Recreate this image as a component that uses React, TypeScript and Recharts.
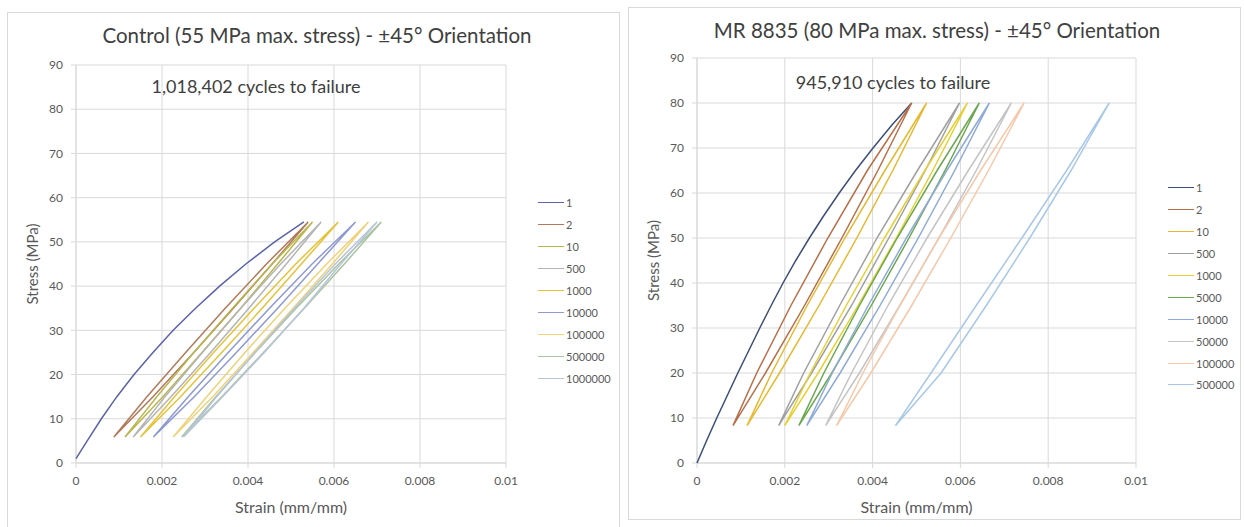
import { CartesianGrid, Legend, Scatter, ScatterChart, XAxis, YAxis } from "recharts";

type Pt = { x: number; y: number };

// Shared axis ticks (strain in mm/mm, stress in MPa)
const STRAIN_TICKS = [0, 0.002, 0.004, 0.006, 0.008, 0.01];
const STRESS_TICKS = [0, 10, 20, 30, 40, 50, 60, 70, 80, 90];

// ---- Control, 55 MPa max stress ----
const CONTROL_CYCLES = ["1", "2", "10", "500", "1000", "10000", "100000", "500000", "1000000"];
const CONTROL_COLORS = [
  "#5b62a8", "#b07a5a", "#b9b64e", "#b4b4b4", "#e6c23a",
  "#8e9ad0", "#f0d27a", "#a9c4a0", "#b8c4d8",
];
// first cycle: loading from rest
const CONTROL_FIRST_STRESS = [1, 5, 10, 15, 20, 25, 30, 35, 40, 45, 50, 54.5];
const CONTROL_FIRST_STRAIN = [
  0, 0.00026, 0.00059, 0.00095, 0.00135, 0.00179, 0.00226, 0.00278, 0.00334, 0.00395, 0.00462, 0.0053,
];
// later cycles: load up then unload (same stress path for every loop)
const CONTROL_LOOP_STRESS = [5.9, 15, 25, 35, 45, 54.5, 45, 35, 25, 15, 5.9];
const CONTROL_LOOP_STRAIN = [
  [0.00088, 0.00165, 0.00255, 0.00347, 0.00443, 0.0054, 0.00456, 0.00366, 0.00274, 0.00179, 0.00088],
  [0.00114, 0.00188, 0.00274, 0.00364, 0.00456, 0.0055, 0.00469, 0.00383, 0.00293, 0.00202, 0.00114],
  [0.00133, 0.00207, 0.00294, 0.00383, 0.00476, 0.0057, 0.00489, 0.00402, 0.00313, 0.00221, 0.00133],
  [0.0015, 0.00229, 0.0032, 0.00414, 0.00511, 0.0061, 0.00524, 0.00433, 0.00339, 0.00243, 0.0015],
  [0.0018, 0.00261, 0.00354, 0.0045, 0.00549, 0.0065, 0.00562, 0.00469, 0.00373, 0.00275, 0.0018],
  [0.00226, 0.00304, 0.00393, 0.00486, 0.00583, 0.0068, 0.00596, 0.00505, 0.00412, 0.00318, 0.00226],
  [0.00246, 0.00325, 0.00417, 0.00512, 0.00611, 0.0071, 0.00624, 0.00531, 0.00436, 0.00339, 0.00246],
  [0.0025, 0.00327, 0.00416, 0.00508, 0.00603, 0.007, 0.00616, 0.0053, 0.00438, 0.00341, 0.0025],
];

// ---- MR 8835, 80 MPa max stress ----
const MR_CYCLES = ["1", "2", "10", "500", "1000", "5000", "10000", "50000", "100000", "500000"];
const MR_COLORS = [
  "#3c4e78", "#b86f48", "#e8b830", "#a0a0a0", "#e6d034",
  "#6aa84f", "#8eaad8", "#c4c4c4", "#f6c8a8", "#a8c8e8",
];
const MR_FIRST_STRESS = [0, 5, 10, 15, 20, 25, 30, 35, 40, 45, 50, 55, 60, 65, 70, 75, 80];
const MR_FIRST_STRAIN = [
  0, 0.00022, 0.00045, 0.00069, 0.00093, 0.00118, 0.00143, 0.00169, 0.00196,
  0.00225, 0.00256, 0.00289, 0.00324, 0.00361, 0.00401, 0.00443, 0.00489,
];
const MR_LOOP_STRESS = [8.3, 20, 35, 50, 65, 80, 65, 50, 35, 20, 8.3];
const MR_LOOP_STRAIN = [
  [0.00082, 0.00136, 0.00214, 0.00298, 0.00388, 0.00489, 0.00412, 0.0033, 0.00245, 0.00156, 0.00082],
  [0.00114, 0.0017, 0.00251, 0.00337, 0.00428, 0.00523, 0.00446, 0.00364, 0.00278, 0.00188, 0.00114],
  [0.00186, 0.00243, 0.00325, 0.0041, 0.00502, 0.00598, 0.0052, 0.00437, 0.00352, 0.00261, 0.00186],
  [0.002, 0.00258, 0.0034, 0.00427, 0.00519, 0.00616, 0.00537, 0.00454, 0.00367, 0.00276, 0.002],
  [0.00232, 0.00289, 0.0037, 0.00456, 0.00547, 0.00643, 0.00565, 0.00483, 0.00397, 0.00307, 0.00232],
  [0.0025, 0.00308, 0.0039, 0.00477, 0.00569, 0.00666, 0.00587, 0.00504, 0.00417, 0.00326, 0.0025],
  [0.00293, 0.00352, 0.00435, 0.00524, 0.00618, 0.00716, 0.00636, 0.00551, 0.00462, 0.0037, 0.00293],
  [0.00318, 0.00378, 0.00462, 0.00551, 0.00646, 0.00745, 0.00664, 0.00578, 0.00489, 0.00396, 0.00318],
  [0.00452, 0.00533, 0.00636, 0.0074, 0.00842, 0.00939, 0.00852, 0.00758, 0.00659, 0.00556, 0.00452],
];

const FONT = "Lato, 'Open Sans', sans-serif";
const GRID = "#d9d9d9";
const TEXT = "#595959";

const zip = (strain: number[], stress: number[]): Pt[] =>
  strain.map((x, i) => ({ x, y: stress[i] }));

const noDot = () => <g />;

function CycleLegend({ cycles, colors, row }: { cycles: string[]; colors: string[]; row: number }) {
  return (
    <div style={{ fontFamily: FONT }}>
      {cycles.map((c, i) => (
        <div key={c} style={{ display: "flex", alignItems: "center", height: row }}>
          <span style={{ width: 26, borderTop: `1.8px solid ${colors[i]}`, marginRight: 2 }} />
          <span style={{ fontSize: 11, color: TEXT }}>{c}</span>
        </div>
      ))}
    </div>
  );
}

type PanelProps = {
  left: number;
  top: number;
  width: number;
  height: number;
  title: string;
  note: string;
  titleX: number;
  titleY: number;
  noteX: number;
  noteY: number;
  margin: { top: number; right: number; bottom: number; left: number };
  legendX: number;
  legendY: number;
  legendRow: number;
  cycles: string[];
  colors: string[];
  series: Pt[][];
};

function Panel(p: PanelProps) {
  const w = p.width - 2;
  const h = p.height - 2;
  return (
    <div
      style={{
        position: "absolute",
        left: p.left,
        top: p.top,
        width: p.width,
        height: p.height,
        boxSizing: "border-box",
        border: `1px solid ${GRID}`,
        fontFamily: FONT,
      }}
    >
      <ScatterChart width={w} height={h} margin={p.margin}>
        <CartesianGrid stroke={GRID} />
        <XAxis
          type="number"
          dataKey="x"
          domain={[0, 0.01]}
          ticks={STRAIN_TICKS}
          height={50}
          stroke={GRID}
          tickSize={5}
          tickMargin={8}
          tick={{ fill: TEXT, fontSize: 12, fontFamily: FONT }}
          label={{ value: "Strain (mm/mm)", position: "insideBottom", offset: 0, fill: TEXT, fontSize: 16, fontFamily: FONT }}
        />
        <YAxis
          type="number"
          dataKey="y"
          domain={[0, 90]}
          ticks={STRESS_TICKS}
          width={50}
          stroke={GRID}
          tickSize={5}
          tickMargin={8}
          tick={{ fill: TEXT, fontSize: 12, fontFamily: FONT }}
          label={{
            value: "Stress (MPa)",
            angle: -90,
            position: "insideLeft",
            offset: 7,
            fill: TEXT,
            fontSize: 15,
            fontFamily: FONT,
            style: { textAnchor: "middle" },
          }}
        />
        {p.series.map((pts, i) => (
          <Scatter
            key={p.cycles[i]}
            name={p.cycles[i]}
            data={pts}
            fill={p.colors[i]}
            line={{ strokeWidth: 1.5 }}
            shape={noDot}
            isAnimationActive={false}
          />
        ))}
        <Legend
          layout="vertical"
          align="center"
          verticalAlign="middle"
          wrapperStyle={{ left: p.legendX, top: p.legendY, width: 80 }}
          content={() => <CycleLegend cycles={p.cycles} colors={p.colors} row={p.legendRow} />}
        />
      </ScatterChart>
      <div
        style={{
          position: "absolute",
          left: p.titleX - 260,
          top: p.titleY - 13,
          width: 520,
          textAlign: "center",
          fontSize: 20.5,
          color: "#404040",
          lineHeight: "26px",
        }}
      >
        {p.title}
      </div>
      <div
        style={{
          position: "absolute",
          left: p.noteX - 150,
          top: p.noteY - 11,
          width: 300,
          textAlign: "center",
          fontSize: 18,
          color: "#404040",
          lineHeight: "22px",
        }}
      >
        {p.note}
      </div>
    </div>
  );
}

const controlSeries = [
  zip(CONTROL_FIRST_STRAIN, CONTROL_FIRST_STRESS),
  ...CONTROL_LOOP_STRAIN.map((s) => zip(s, CONTROL_LOOP_STRESS)),
];
const mrSeries = [
  zip(MR_FIRST_STRAIN, MR_FIRST_STRESS),
  ...MR_LOOP_STRAIN.map((s) => zip(s, MR_LOOP_STRESS)),
];

export default function App() {
  return (
    <div
      style={{
        position: "absolute",
        left: 0,
        top: 0,
        width: 1244,
        height: 527,
        overflow: "hidden",
        background: "#fff",
      }}
    >
      <Panel
        left={7}
        top={12}
        width={613}
        height={520}
        title="Control  (55 MPa max. stress) - ±45° Orientation"
        note="1,018,402 cycles to failure"
        titleX={309}
        titleY={22}
        noteX={248}
        noteY={73}
        margin={{ top: 52, right: 113, bottom: 18, left: 18 }}
        legendX={530}
        legendY={178}
        legendRow={22}
        cycles={CONTROL_CYCLES}
        colors={CONTROL_COLORS}
        series={controlSeries}
      />
      <Panel
        left={628}
        top={7}
        width={613}
        height={513}
        title="MR 8835 (80 MPa max. stress) - ±45° Orientation"
        note="945,910 cycles to failure"
        titleX={308}
        titleY={22}
        noteX={264}
        noteY={74}
        margin={{ top: 50, right: 104, bottom: 6, left: 18 }}
        legendX={539}
        legendY={169}
        legendRow={21.9}
        cycles={MR_CYCLES}
        colors={MR_COLORS}
        series={mrSeries}
      />
    </div>
  );
}
